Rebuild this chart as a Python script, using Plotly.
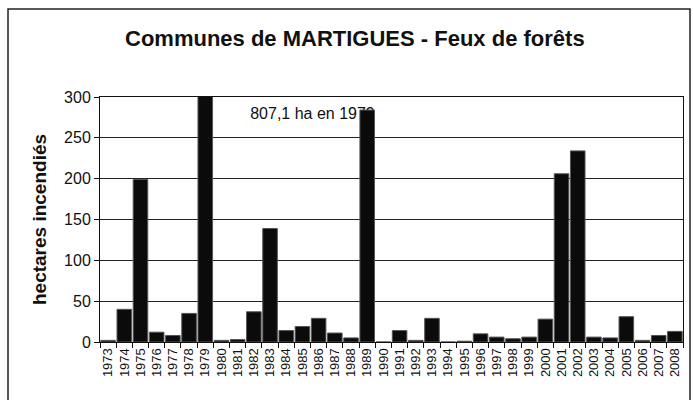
import plotly.graph_objects as go

# Forest fires in the commune of Martigues, hectares burnt per year
years = ["1973", "1974", "1975", "1976", "1977", "1978", "1979", "1980", "1981",
         "1982", "1983", "1984", "1985", "1986", "1987", "1988", "1989", "1990",
         "1991", "1992", "1993", "1994", "1995", "1996", "1997", "1998", "1999",
         "2000", "2001", "2002", "2003", "2004", "2005", "2006", "2007", "2008"]
hectares = [2, 40, 199, 12, 8, 35, 807.1, 2, 3,
            37, 139, 14, 19, 29, 11, 5, 284, 0,
            14, 2, 29, 0, 1, 10, 6, 4, 6,
            28, 206, 234, 6, 5, 31, 2, 8, 13]
y_ticks = [0, 50, 100, 150, 200, 250, 300]
note_text = "807,1 ha en 1979"

FONT = "Liberation Sans, Arial, sans-serif"

# plot area in pixels (for the outer frame drawn in paper units)
W, H = 693, 400
L, R, T, B = 100, 10, 97, 58
pw, ph = W - L - R, H - T - B


def px_x(p):
    return (p - L) / pw


def px_y(p):
    return (H - B - p) / ph


fig = go.Figure()

# note sits on the base subplot so the bars (overlay subplot) pass over it
fig.add_trace(go.Scatter(
    x=[12.62], y=[278], mode="text", text=[note_text],
    textfont=dict(family=FONT, size=16, color="#111"),
    xaxis="x", yaxis="y", hoverinfo="skip", showlegend=False,
))

fig.add_trace(go.Bar(
    x=years, y=hectares, xaxis="x2", yaxis="y2",
    marker=dict(color="#0b0b0b", line=dict(color="#555", width=1)),
    showlegend=False,
))

fig.update_layout(
    width=W, height=H,
    margin=dict(l=L, r=R, t=T, b=B),
    paper_bgcolor="white", plot_bgcolor="white",
    bargap=0.1,
    font=dict(family=FONT, color="#111"),
    title=dict(text="<b>Communes de MARTIGUES - Feux de forêts</b>",
               x=0.512, xanchor="center", y=1 - 38 / H, yanchor="middle",
               font=dict(family=FONT, size=22, color="#111")),
    xaxis=dict(range=[-0.5, len(years) - 0.5], showgrid=False, zeroline=False,
               showticklabels=False, ticks="", showline=True, mirror=True,
               linecolor="#111", linewidth=1),
    yaxis=dict(range=[0, 300], tickvals=y_ticks, showgrid=True,
               gridcolor="#222", gridwidth=1, zeroline=False,
               showline=True, mirror=True, linecolor="#111", linewidth=1,
               ticks="outside", ticklen=5, tickcolor="#111",
               tickfont=dict(family=FONT, size=16, color="#111"),
               title=dict(text="<b>hectares incendiés</b>", standoff=12,
                          font=dict(family=FONT, size=19, color="#111"))),
    xaxis2=dict(type="category", overlaying="x", side="bottom",
                categoryarray=years, categoryorder="array",
                tickmode="array", tickvals=years, ticktext=years,
                showgrid=False, zeroline=False, showline=True,
                linecolor="#111", linewidth=1,
                ticks="outside", ticklen=5, tickcolor="#111",
                tickson="boundaries", tickangle=-90,
                tickfont=dict(family=FONT, size=13, color="#111")),
    yaxis2=dict(range=[0, 300], overlaying="y", side="left", visible=False,
                showgrid=False, zeroline=False),
    shapes=[dict(type="rect", xref="paper", yref="paper",
                 x0=px_x(8), x1=px_x(690), y0=px_y(403), y1=px_y(9),
                 line=dict(color="#222", width=1.5), fillcolor="rgba(0,0,0,0)",
                 layer="below")],
)

fig.write_html("out.html")
